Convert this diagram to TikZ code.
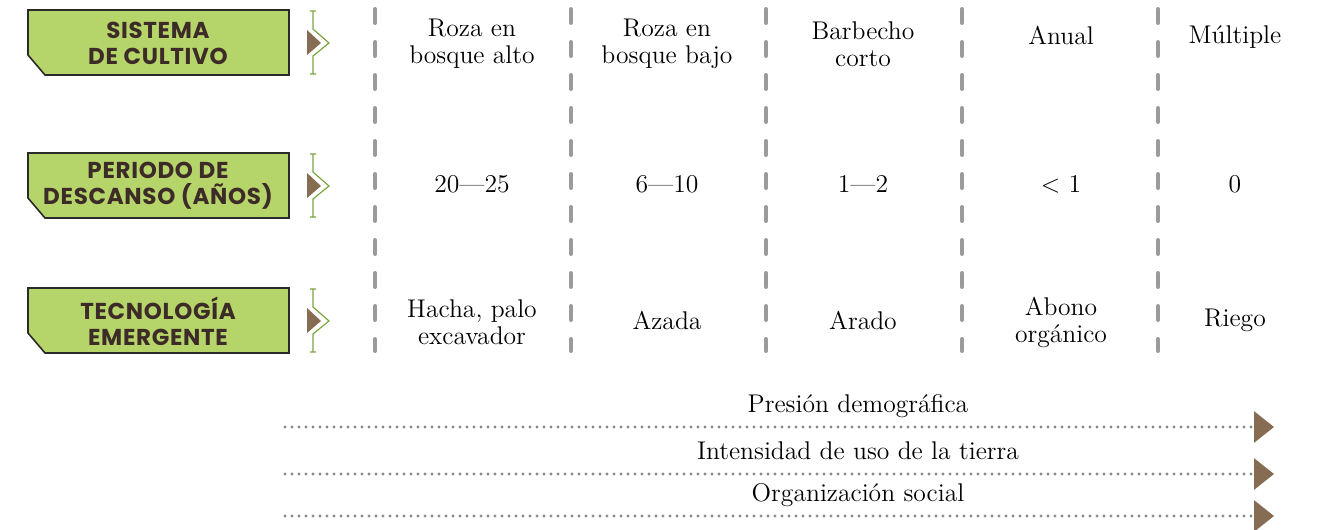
\documentclass[tikz,border=0pt]{standalone}
\usepackage{fontspec}
\newfontfamily\headfont{Poppins}[LetterSpace=3]
\usepackage{tikz}
\usetikzlibrary{arrows.meta,positioning}
\definecolor{hoja}{HTML}{B5D46A}
\definecolor{tierra}{HTML}{3D2B27}
\definecolor{cafe}{HTML}{866C52}
\definecolor{tallo}{HTML}{7BA540}
\definecolor{gris}{HTML}{9B9B9B}
\definecolor{punto}{HTML}{888888}
\definecolor{borde}{HTML}{2A2A2A}
\tikzset{
  cabeza/.style={font=\headfont\bfseries\fontsize{11.5}{13}\selectfont, text=tierra, align=center},
  celda/.style={font=\fontsize{12.8}{13.5}\selectfont, align=center},
  divisor/.style={gris, line width=2pt, line cap=round, dash pattern=on 7pt off 9.5pt},
  flujo/.style={punto, line width=1.6pt, line cap=round, dash pattern=on 0pt off 3.5pt,
    -{Triangle[length=10pt,width=15.5pt,color=cafe]}}
}

\begin{document}
\begin{tikzpicture}[x=0.5pt,y=-0.5pt]
            \useasboundingbox (0,0) rectangle (1319,530);

            % Draw the three green labels and their brackets
            \foreach \y in {10,153,288}{
              \draw[fill=hoja, draw=borde, line width=0.8pt]
                (28,\y) -- (289,\y) -- (289,{\y+65}) -- (45,{\y+65}) -- (28,{\y+45}) -- cycle;
              \draw[tallo, line width=0.6pt]
                (310,{\y+1}) -- (316,{\y+1})
                (313,{\y+1}) -- (313,{\y+19}) -- (329,{\y+33}) -- (313,{\y+46}) -- (313,{\y+64})
                (310,{\y+64}) -- (316,{\y+64});
              \fill[cafe] (307,{\y+20}) -- (321,{\y+33}) -- (307,{\y+45}) -- cycle;
            }
            \node[cabeza] (sistema) at (158,43) {SISTEMA\\DE CULTIVO};
            \node[cabeza] (periodo) at (158,186) {PERIODO DE\\DESCANSO (AÑOS)};
            \node[cabeza] (tecnologia) at (158,321) {TECNOLOGÍA\\EMERGENTE};

            % Draw the dashed column dividers
            \foreach \x in {375,571,766,962,1158}
              \draw[divisor] (\x,9) -- (\x,351);

            % Row one
            \node[celda] (alto) at (472,44) {Roza en\\bosque alto};
            \node[celda] (bajo) at (667,44) {Roza en\\bosque bajo};
            \node[celda] (barbecho) at (863,44) {Barbecho\\corto};
            \node[celda] (anual) at (1061,35) {Anual};
            \node[celda] (multiple) at (1235,37) {Múltiple};

            % Row two
            \node[celda] (d1) at (472,184) {20—25};
            \node[celda] (d2) at (667,184) {6—10};
            \node[celda] (d3) at (863,184) {1—2};
            \node[celda] (d4) at (1061,184) {< 1};
            \node[celda] (d5) at (1235,184) {0};

            % Row three
            \node[celda] (hacha) at (472,322) {Hacha, palo\\excavador};
            \node[celda] (azada) at (667,320) {Azada};
            \node[celda] (arado) at (863,320) {Arado};
            \node[celda] (abono) at (1061,322) {Abono\\orgánico};
            \node[celda] (riego) at (1235,320) {Riego};

            % Draw the three trends
            \coordinate (p0) at (285,427);
            \coordinate (p1) at (1274,427);
            \coordinate (i0) at (285,474);
            \coordinate (i1) at (1274,474);
            \coordinate (o0) at (285,516);
            \coordinate (o1) at (1274,516);
            \draw[flujo] (p0) -- (p1);
            \draw[flujo] (i0) -- (i1);
            \draw[flujo] (o0) -- (o1);
            \node[celda] (presion) at (858,406) {Presión demográfica};
            \node[celda] (intensidad) at (858,451) {Intensidad de uso de la tierra};
            \node[celda] (organizacion) at (858,495) {Organización social};

        \end{tikzpicture}
\end{document}
